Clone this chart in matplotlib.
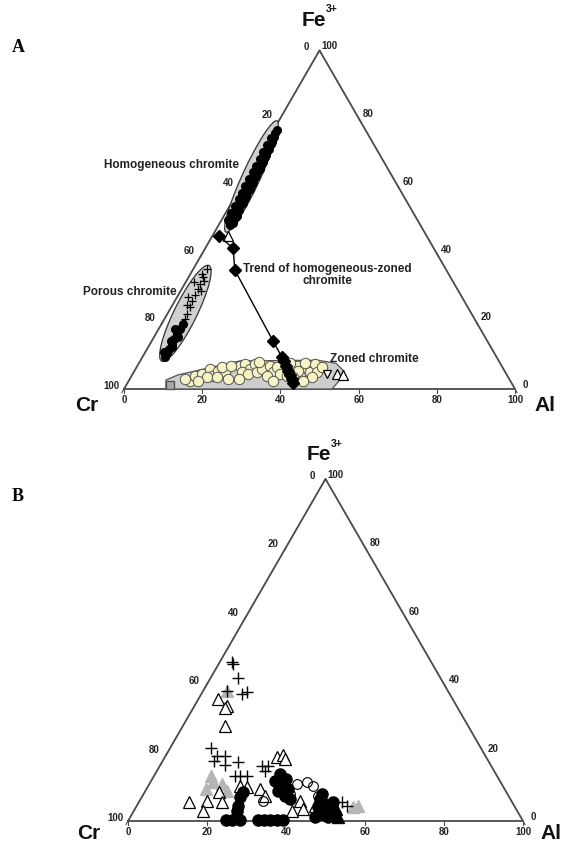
import numpy as np
import matplotlib
matplotlib.use("Agg")
import matplotlib.pyplot as plt
from matplotlib.patches import Ellipse, Polygon

plt.rcParams['font.family'] = ['Liberation Sans', 'DejaVu Sans']

S3 = np.sqrt(3) / 2

# ---------------- Panel A data (Al %, Fe3+ %) ----------------
homog_al = [2.9, 2.3, 3.2, 2.5, 2.8, 2.0, 2.9, 2.3, 2.6, 1.9, 2.5, 2.1, 2.4, 1.7, 2.2,
            1.8, 2.1, 1.5, 1.9, 1.4, 1.7, 1.2, 1.6, 1.1, 1.4, 1.0, 1.2, 0.9, 1.0,
            1.6, 1.4, 1.5, 1.3, 1.2, 1.0, 0.9, 0.9, 0.8, 0.7, 0.6, 0.5, 0.5,
            3.4, 3.3, 3.0, 2.9, 2.8, 2.6, 2.5, 2.3, 2.2, 2.0, 1.8, 1.6, 1.4]
homog_fe = [48.5, 49.5, 50.5, 51.5, 52.5, 53.5, 54.5, 55.5, 56.5, 57.5, 58.5, 59.5, 60.5,
            61.5, 62.5, 63.5, 64.5, 65.5, 66.5, 67.5, 68.5, 69.5, 70.5, 71.5, 72.5, 73.5,
            74.5, 75.5, 76.5,
            50, 52, 54, 56, 58, 60, 62, 64, 66, 68, 70, 72, 74,
            49, 51, 53, 55, 57, 59, 61, 63, 65, 67, 69, 71, 73]

porous_cross_al = [3.5, 3.7, 3.9, 4.2, 4.3, 4.4, 4.8, 5.1, 5.3, 5.2, 2.1, 2.8, 3.0, 4.6, 3.6]
porous_cross_fe = [35.4, 33.0, 31.0, 29.5, 27.7, 26.0, 24.2, 22.1, 20.6, 28.9, 31.6, 27.1, 34.0, 31.8, 24.8]

porous_dot_al = [5.5, 5.5, 5.5, 5.4, 5.6, 5.6, 5.7, 5.8, 6.2, 4.9, 4.2, 6.0, 4.8]
porous_dot_fe = [19.2, 17.7, 16.2, 14.7, 13.3, 11.8, 10.6, 9.4, 15.3, 14.2, 17.7, 12.5, 11.0]

trend_al = [1.8, 7.1, 10.8, 31.0, 35.7, 36.8, 38.0, 39.3, 40.4, 41.5, 42.3]
trend_fe = [45.1, 41.6, 35.1, 14.2, 9.4, 8.3, 6.8, 5.3, 4.1, 2.9, 1.8]

zoned_al = [15.7, 16.3, 17.7, 19.0, 20.6, 21.4, 23.3, 25.1, 19.5, 17.7, 22.0, 21.8,
            26.3, 27.2, 29.3, 29.8, 27.7, 29.5, 31.5, 32.3, 33.9, 35.6, 34.7, 35.9, 37.7,
            39.5, 40.8, 43.1, 43.1, 45.1, 45.1, 46.9, 46.3, 44.6, 41.9, 41.5, 39.8,
            14.0, 24.0, 30.5, 38.5, 42.5, 47.5, 36.8, 28.0]
zoned_fe = [2.4, 3.8, 4.4, 5.9, 3.8, 5.3, 5.0, 2.9, 3.5, 2.4, 3.5, 6.5,
            6.8, 7.4, 5.9, 7.4, 5.0, 4.4, 5.0, 5.9, 6.8, 5.0, 3.8, 6.5, 4.4,
            5.9, 6.8, 3.8, 6.5, 5.0, 7.4, 5.0, 3.5, 2.4, 5.3, 3.5, 3.8,
            3.0, 6.8, 8.0, 7.8, 7.6, 6.5, 2.5, 3.0]

zoned_tri_al = [52.3, 54.0, 4.0]
zoned_tri_fe = [4.4, 4.1, 45.1]
zoned_vtri_al = [49.7]
zoned_vtri_fe = [4.4]
zoned_sq_al = [11.2]
zoned_sq_fe = [1.2]

# ---------------- Panel B data (Al %, Fe3+ %) ----------------
b_cross_al = [3.1, 3.6, 6.9, 10.3, 11.2, 6.1, 10.3, 13.0, 15.1, 13.0, 16.4, 19.2,
              20.5, 21.8, 23.5, 25.9, 27.4, 27.4, 51.4, 53.2]
b_cross_fe = [46.5, 45.9, 41.8, 37.1, 37.7, 38.0, 21.3, 19.0, 19.0, 17.5, 16.4, 17.3,
              13.2, 13.2, 13.2, 16.1, 16.1, 14.6, 5.6, 4.4]

b_otri_al = [5.0, 8.3, 10.7, 12.6, 17.1, 18.8, 21.0, 17.5, 23.3, 25.1, 28.3, 29.6, 30.6,
             28.7, 31.0, 40.6, 42.5, 40.0, 45.1, 8.0]
b_otri_fe = [35.7, 33.6, 27.8, 5.6, 5.8, 8.5, 5.6, 2.9, 10.2, 9.9, 18.7, 19.3, 18.1,
             9.4, 7.3, 5.8, 3.5, 2.9, 4.4, 33.0]

b_gtri_al = [6.1, 14.4, 15.8, 18.4, 15.0, 20.7, 55.0, 56.0]
b_gtri_fe = [38.0, 13.2, 11.4, 10.8, 9.4, 8.8, 4.1, 4.4]

b_dot_al = [24.6, 26.3, 28.1, 32.7, 34.2, 35.9, 37.5, 39.2, 25.6, 24.9, 24.9, 26.1,
            31.4, 33.6, 35.8, 33.6, 36.0, 37.8, 31.6, 33.9,
            45.4, 47.4, 49.3, 48.1, 46.1, 50.0, 51.4, 45.2, 46.7, 49.1]
b_dot_fe = [0.3, 0.3, 0.3, 0.3, 0.3, 0.3, 0.3, 0.3, 4.4, 7.0, 8.5, 2.9,
            11.7, 10.8, 9.4, 8.8, 7.3, 6.4, 13.7, 12.3,
            6.4, 5.0, 3.5, 2.0, 4.1, 1.2, 2.0, 7.9, 1.2, 5.6]

b_btri_al = [52.6, 50.9]
b_btri_fe = [1.2, 3.5]

b_ocirc_al = [37.4, 39.6, 41.7, 31.3, 37.1, 44.4, 47.2]
b_ocirc_fe = [10.8, 11.4, 10.2, 5.8, 7.9, 7.3, 4.4]

tick_values = [0, 20, 40, 60, 80, 100]


def tern(al, fe):
    al = np.asarray(al, float)
    fe = np.asarray(fe, float)
    return al + fe / 2, fe * S3


W, H = 562, 845
fig = plt.figure(figsize=(W / 100, H / 100), dpi=100)


def ftext(x, y, s, **kw):
    fig.text(x / W, 1 - y / H, s, **kw)


def make_axes(y0, y1, cx, cy, sc):
    ax = fig.add_axes([0, 1 - y1 / H, 1, (y1 - y0) / H])
    ax.set_xlim(-cx / sc, (W - cx) / sc)
    ax.set_ylim((cy - y1) / sc, (cy - y0) / sc)
    ax.axis('off')
    return ax


def frame(ax, sc):
    ax.plot([0, 100, 50, 0], [0, 0, 100 * S3, 0], color='#4a4a4a', lw=1.3,
            zorder=1, solid_joinstyle='miter')
    p = 0.72  # px -> pt
    tl = 4 / sc
    kw = dict(textcoords='offset points', ha='center', va='center',
              fontsize=7, fontweight='bold', color='#222')
    for v in tick_values:
        # bottom (Al)
        x, y = v, 0
        ax.plot([x, x], [y, y - tl], color='#4a4a4a', lw=0.8)
        ax.annotate(str(v), (x, y), xytext=(0, -10 * p), **kw)
        # left (Cr)
        fe = 100 - v
        x, y = fe / 2, fe * S3
        ax.plot([x, x - tl * 0.5], [y, y - tl * S3], color='#4a4a4a', lw=0.8)
        ax.annotate(str(v), (x, y), xytext=(-13 * p, 4 * p), **kw)
        # right (Fe)
        x, y = 100 - v / 2, v * S3
        ax.plot([x, x + tl * 0.5], [y, y - tl * S3], color='#4a4a4a', lw=0.8)
        ax.annotate(str(v), (x, y), xytext=(10 * p, 5 * p), **kw)


# ================= Panel A =================
axA = make_axes(0, 422, 124, 390, 3.91)
frame(axA, 3.91)

axA.add_patch(Ellipse((32.6, 54.35), 31.3, 4.6, angle=65.3, facecolor='#d0d0d0',
                      edgecolor='#333', lw=0.9, zorder=2))
axA.add_patch(Ellipse((15.7, 19.35), 27.3, 5.8, angle=63.7, facecolor='#d0d0d0',
                      edgecolor='#333', lw=0.9, zorder=2))
poly_al = [10.7, 9.4, 11.7, 25.5, 45.3, 50.4, 53.6, 53.9, 53.2]
poly_fe = [0, 2.66, 4.16, 8.3, 8.5, 7.6, 5.3, 2.7, 0]
px_, py_ = tern(poly_al, poly_fe)
axA.add_patch(Polygon(np.column_stack([px_, py_]), closed=True, facecolor='#cdcdcd',
                      edgecolor='#555', lw=0.9, zorder=2))

x, y = tern(homog_al, homog_fe)
axA.plot(x, y, 'o', color='black', ms=5.5, zorder=4)
x, y = tern(porous_cross_al, porous_cross_fe)
axA.plot(x, y, '+', color='black', ms=6, mew=0.9, zorder=4)
x, y = tern(porous_dot_al, porous_dot_fe)
axA.plot(x, y, 'o', color='black', ms=5.5, zorder=4)
x, y = tern(zoned_sq_al, zoned_sq_fe)
axA.plot(x, y, 's', mfc='#a8a8a8', mec='#555', ms=6, zorder=3)
x, y = tern(zoned_al, zoned_fe)
axA.plot(x, y, 'o', mfc='#f6f3c4', mec='#555', ms=7.5, mew=0.7, zorder=4)
x, y = tern(zoned_tri_al, zoned_tri_fe)
axA.plot(x, y, '^', mfc='white', mec='black', ms=6.5, mew=0.9, zorder=5)
x, y = tern(zoned_vtri_al, zoned_vtri_fe)
axA.plot(x, y, 'v', mfc='white', mec='black', ms=6, mew=0.9, zorder=5)
x, y = tern(trend_al, trend_fe)
axA.plot(x, y, '-', color='black', lw=1.0, zorder=5)
axA.plot(x, y, 'D', color='black', ms=6, zorder=6)

tkw = dict(fontsize=8.5, fontweight='bold', color='#222', va='center')
ftext(172, 165, 'Homogeneous chromite', ha='center', **tkw)
ftext(177, 292, 'Porous chromite', ha='right', **tkw)
ftext(243, 275, 'Trend of homogeneous-zoned\nchromite', ha='left',
      multialignment='center', linespacing=1.1, **tkw)
ftext(330, 359, 'Zoned chromite', ha='left', **tkw)

lkw = dict(fontsize=15, fontweight='bold', color='#111', ha='center', va='center')
ftext(87, 406, 'Cr', **lkw)
ftext(545, 406, 'Al', **lkw)
ftext(314, 21, 'Fe', **lkw)
ftext(332, 9, '3+', fontsize=7.5, fontweight='bold', color='#111', ha='center', va='center')
ftext(18, 48, 'A', fontsize=13, fontweight='bold', family='Liberation Serif',
      ha='center', va='center')

# ================= Panel B =================
axB = make_axes(422, 845, 128, 822, 3.95)
frame(axB, 3.95)

x, y = tern(b_gtri_al, b_gtri_fe)
axB.plot(x, y, '^', color='#b5b5b5', ms=8.5, zorder=3)
x, y = tern(b_otri_al, b_otri_fe)
axB.plot(x, y, '^', mfc='white', mec='black', ms=8.5, mew=0.9, zorder=4)
x, y = tern(b_ocirc_al, b_ocirc_fe)
axB.plot(x, y, 'o', mfc='none', mec='black', ms=7, mew=0.8, zorder=4)
x, y = tern(b_dot_al, b_dot_fe)
axB.plot(x, y, 'o', color='black', ms=8, zorder=5)
x, y = tern(b_btri_al, b_btri_fe)
axB.plot(x, y, '^', color='black', ms=8, zorder=5)
x, y = tern(b_cross_al, b_cross_fe)
axB.plot(x, y, '+', color='black', ms=8, mew=1.0, zorder=6)

ftext(89, 834, 'Cr', **lkw)
ftext(551, 834, 'Al', **lkw)
ftext(319, 455, 'Fe', **lkw)
ftext(337, 444, '3+', fontsize=7.5, fontweight='bold', color='#111', ha='center', va='center')
ftext(18, 497, 'B', fontsize=13, fontweight='bold', family='Liberation Serif',
      ha='center', va='center')

fig.savefig('out.png', dpi=100)
